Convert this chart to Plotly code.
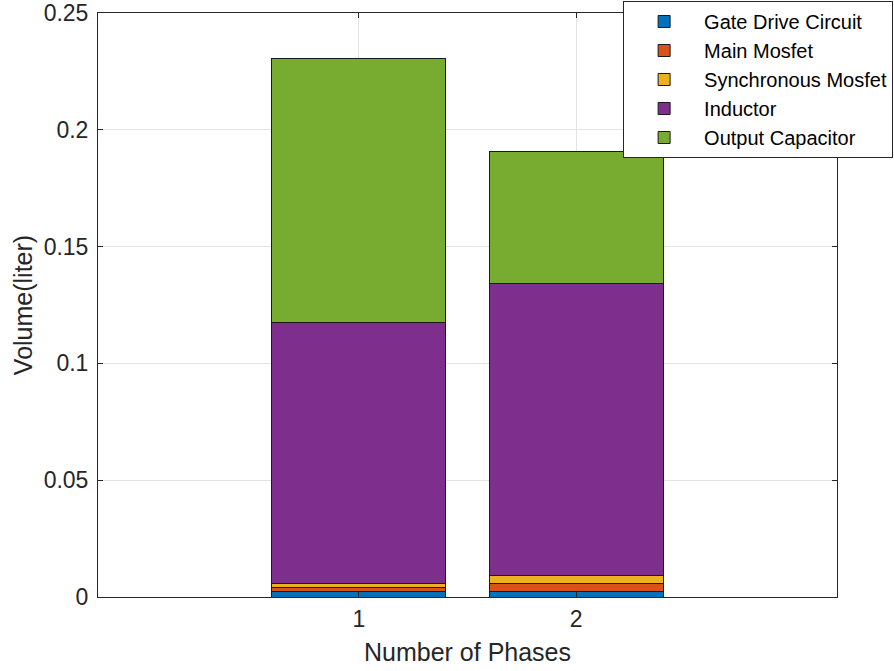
import plotly.graph_objects as go

phases = [1, 2]
series_names = ["Gate Drive Circuit", "Main Mosfet", "Synchronous Mosfet", "Inductor", "Output Capacitor"]
gate_drive = [0.0024, 0.0024]
main_mosfet = [0.0017, 0.0034]
sync_mosfet = [0.0017, 0.0034]
inductor = [0.1119, 0.1252]
output_cap = [0.1128, 0.0565]
colors = ["#0072BD", "#D95319", "#EDB120", "#7E2F8E", "#77AC30"]

series = [gate_drive, main_mosfet, sync_mosfet, inductor, output_cap]

fig = go.Figure()
for name, vals, c in zip(series_names, series, colors):
    fig.add_trace(go.Bar(x=phases, y=vals, name=name,
                         marker=dict(color=c, line=dict(color="#1a1a1a", width=1)), width=0.8))

axis_common = dict(showline=True, linecolor="#262626", linewidth=1, mirror="ticks", ticks="inside",
                   ticklen=5, tickcolor="#262626", showgrid=True, gridcolor="#E3E3E3", zeroline=False,
                   tickfont=dict(size=23, color="#262626"), automargin=False)
fig.update_layout(
    barmode="stack",
    width=894, height=671,
    margin=dict(l=98, r=57, t=13, b=74, autoexpand=False),
    plot_bgcolor="white", paper_bgcolor="white",
    font=dict(family="Liberation Sans, Arial", color="#262626"),
    xaxis=dict(range=[-0.2, 3.2], tickvals=[1, 2], ticktext=["1", "2"], ticklabelstandoff=1,
               title=dict(text="Number of Phases", font=dict(size=25), standoff=12), **axis_common),
    yaxis=dict(range=[0, 0.25], tickvals=[0, 0.05, 0.1, 0.15, 0.2, 0.25],
               ticktext=["0", "0.05", "0.1", "0.15", "0.2", "0.25"], ticklabelstandoff=4,
               title=dict(text="Volume(liter)", font=dict(size=25), standoff=3), **axis_common),
    legend=dict(xref="container", yref="container", x=0.697, y=0.9985, xanchor="left", yanchor="top",
                traceorder="normal", bgcolor="white", bordercolor="#262626", borderwidth=1,
                font=dict(size=20, color="black"), tracegroupgap=0, itemwidth=70),
    bargap=0.2,
)
fig.write_html("out.html", config={"displayModeBar": False},
               post_script="document.body.style.margin='0';")
